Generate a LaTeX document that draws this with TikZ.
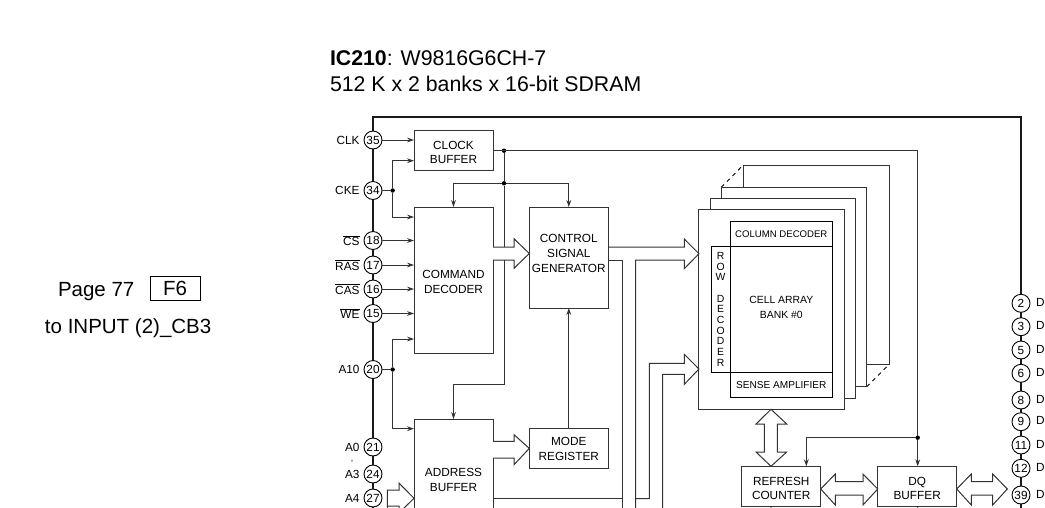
\documentclass[tikz,border=0pt]{standalone}
\usepackage{fontspec}
\setmainfont{Liberation Sans}
\usetikzlibrary{arrows.meta}

\begin{document}
\begin{tikzpicture}[
  x=1pt, y=-1pt,
  >={Stealth[length=7pt, width=4.8pt]},
  every node/.style={inner sep=0pt, outer sep=0pt},
  line/.style={line width=1pt, draw=black!80},
  bus/.style={line width=1.7pt, draw=black!90},
  hollow/.style={line width=1pt, draw=black!80, fill=white, line join=miter},
  blockbox/.style={rectangle, draw=black!80, line width=1pt, fill=white, minimum width=79pt, align=center, font=\fontsize{11.8}{14.7}\selectfont},
  pin/.style={circle, draw=black, line width=0.9pt, fill=white, minimum size=18pt, font=\fontsize{11.8}{11.8}\selectfont},
  pinname/.style={anchor=east, font=\fontsize{11.8}{11.8}\selectfont},
  dqname/.style={anchor=west, font=\fontsize{11.8}{11.8}\selectfont},
  bankbox/.style={rectangle, draw=black, line width=0.9pt, fill=white, align=center, font=\fontsize{9.6}{15}\selectfont},
  note/.style={anchor=base west, font=\fontsize{20.5}{20.5}\selectfont},
  titletext/.style={anchor=base west, font=\fontsize{21.3}{21.3}\selectfont},
  dot/.style={circle, fill=black, minimum size=4.4pt}
]
\useasboundingbox (0,0) rectangle (1045,507);
\clip (0,0) rectangle (1045,507);

% title and page note
\node[titletext] (title) at (330,65.5) {\textbf{IC210}: W9816G6CH-7};
\node[titletext] (subtitle) at (330,91) {512 K x 2 banks x 16-bit SDRAM};
\node[note] (page) at (58,296.5) {Page 77};
\node[draw=black, line width=0.8pt, minimum width=50pt, minimum height=24pt, font=\fontsize{20.5}{20.5}\selectfont] (sheet) at (175,288.7) {F6};
\node[note] (toinput) at (45,333.5) {to INPUT (2)\_CB3};

% power rail round the chip
\coordinate (railtl) at (373,117);
\coordinate (railtr) at (1021,117);
\coordinate (railbl) at (373,515);
\coordinate (railbr) at (1021,515);
\draw[bus] (railbl) -- (railtl) -- (railtr) -- (railbr);

% pins on the left
\node[pin] (p35) at (373,140) {35};
\node[pin] (p34) at (373,190.5) {34};
\node[pin] (p18) at (373,240.5) {18};
\node[pin] (p17) at (373,265) {17};
\node[pin] (p16) at (373,289) {16};
\node[pin] (p15) at (373,313.5) {15};
\node[pin] (p20) at (373,369.5) {20};
\node[pin] (p21) at (373,447) {21};
\node[pin] (p24) at (373,474) {24};
\node[pin] (p27) at (373,498) {27};
\node[pinname] (nclk) at (359.5,140) {CLK};
\node[pinname] (ncke) at (359.5,190.5) {CKE};
\node[pinname] (ncs) at (359.5,240.5) {$\overline{\mbox{CS}}$};
\node[pinname] (nras) at (359.5,265) {$\overline{\mbox{RAS}}$};
\node[pinname] (ncas) at (359.5,289) {$\overline{\mbox{CAS}}$};
\node[pinname] (nwe) at (359.5,313.5) {$\overline{\mbox{WE}}$};
\node[pinname] (na10) at (359.5,369.5) {A10};
\node[pinname] (na0) at (359.5,447) {A0};
\node[rotate=90, font=\fontsize{4.5}{4.5}\selectfont] (nto) at (352.5,461) {≈};
\node[pinname] (na3) at (359.5,474) {A3};
\node[pinname] (na4) at (359.5,498) {A4};

% pins on the right
\node[pin] (p2) at (1021,303.3) {2};
\node[pin] (p3) at (1021,326.7) {3};
\node[pin] (p5) at (1021,350) {5};
\node[pin] (p6) at (1021,373.3) {6};
\node[pin] (p8) at (1021,400) {8};
\node[pin] (p9) at (1021,421.7) {9};
\node[pin] (p11) at (1021,445) {11};
\node[pin] (p12) at (1021,468.3) {12};
\node[pin] (p39) at (1021,495) {39};
\node[dqname] (d2) at (1036,303.3) {DQ};
\node[dqname] (d3) at (1036,326.7) {DQ};
\node[dqname] (d5) at (1036,350) {DQ};
\node[dqname] (d6) at (1036,373.3) {DQ};
\node[dqname] (d8) at (1036,400) {DQ};
\node[dqname] (d9) at (1036,421.7) {DQ};
\node[dqname] (d11) at (1036,445) {DQ};
\node[dqname] (d12) at (1036,468.3) {DQ};
\node[dqname] (d39) at (1036,495) {DQ};

% function blocks
\node[blockbox, minimum height=39.3pt] (clkbuf) at (453.5,150.4) {\rule{0pt}{12.5pt}CLOCK\\BUFFER};
\node[blockbox, minimum height=146pt] (cmddec) at (453.5,280) {\rule{0pt}{12pt}COMMAND\\DECODER};
\node[blockbox, minimum height=101pt] (ctlgen) at (568.8,257.5) {CONTROL\\SIGNAL\\GENERATOR\rule[-8pt]{0pt}{0pt}};
\node[blockbox, minimum height=39.3pt] (modereg) at (568.8,448.4) {\rule{0pt}{9.5pt}MODE\\REGISTER};
\node[blockbox, minimum height=122pt] (addrbuf) at (453.5,480) {ADDRESS\\BUFFER};
\node[blockbox, minimum height=40pt] (refresh) at (781.2,486.3) {\rule{0pt}{12.5pt}REFRESH\\COUNTER};
\node[blockbox, minimum height=40pt] (dqbuf) at (917.2,486.3) {\rule{0pt}{12.5pt}DQ\\BUFFER};

% banks, back to front
\draw[dash pattern=on 4pt off 4pt, line width=0.9pt] (721.3,187.3) -- (743.3,165);
\draw[dash pattern=on 4pt off 4pt, line width=0.9pt] (866.7,386.7) -- (889.3,364.3);
\draw[line] (743.3,187.3) -- (743.3,165) -- (889.3,165) -- (889.3,364.3) -- (866.7,364.3);
\draw[line] (710,198.3) -- (721.3,198.3) -- (721.3,187.3) -- (866.7,187.3) -- (866.7,386.7) -- (855.7,386.7);
\draw[line] (699,209.7) -- (710,209.7) -- (710,198.3) -- (855.7,198.3) -- (855.7,398.3) -- (844.7,398.3);
\node[rectangle, draw=black!80, line width=1pt, fill=white, minimum width=145.7pt, minimum height=199.6pt] (bank) at (771.8,309.5) {};
\node[bankbox, minimum width=102.7pt, minimum height=25pt] (coldec) at (781.3,233.8) {COLUMN DECODER};
\node[bankbox, minimum width=102.7pt, minimum height=25pt, font=\fontsize{10.1}{15}\selectfont] (senseamp) at (781.3,384.8) {SENSE AMPLIFIER};
\node[bankbox, minimum width=102.7pt, minimum height=126pt, font=\fontsize{10.4}{15}\selectfont] (cell) at (781.3,309.3) {CELL ARRAY\\BANK \#0\rule[-4pt]{0pt}{0pt}};
\node[bankbox, minimum width=18.7pt, minimum height=126pt, anchor=east, font=\fontsize{10.4}{10.7}\selectfont] (rowdec) at (cell.west) {R\\O\\W\\[10.7pt]D\\E\\C\\O\\D\\E\\R};

% clock and control lines
\draw[->, line] (p35) -- (clkbuf.west |- p35);
\node[dot] (ckedot) at (392.7,190.5) {};
\draw[line] (p34) -- (ckedot);
\draw[->, line] (ckedot) |- (clkbuf.west |- 0,160.7);
\draw[->, line] (ckedot) |- (cmddec.west |- 0,217);
\draw[->, line] (p18) -- (cmddec.west |- p18);
\draw[->, line] (p17) -- (cmddec.west |- p17);
\draw[->, line] (p16) -- (cmddec.west |- p16);
\draw[->, line] (p15) -- (cmddec.west |- p15);
\node[dot] (a10dot) at (392.7,369.5) {};
\draw[line] (p20) -- (a10dot);
\draw[->, line] (a10dot) |- (cmddec.west |- 0,339);
\draw[->, line] (a10dot) |- (addrbuf.west |- 0,428.7);

\node[dot] (clkdot) at (504,150.7) {};
\node[dot] (ctldot) at (504,183.3) {};
\coordinate (clkturn) at (917.7,150.7);
\node[dot] (dqdot) at (917.7,437.7) {};
\draw[line] (clkbuf.east |- clkdot) -- (clkturn) -- (dqdot);
\draw[->, line] (dqdot) -- (dqbuf.north -| dqdot);
\draw[->, line] (dqdot) -| (806.3,466.3);
\draw[line] (clkdot) -- (ctldot);
\draw[->, line] (ctldot) -| (cmddec.north);
\draw[->, line] (ctldot) -| (ctlgen.north);
\draw[->, line] (ctldot) -- (504,384) -| (addrbuf.north);
\draw[->, line] (modereg.north) -- (ctlgen.south);

% block arrows
\draw[hollow] (cmddec.east |- 0,247) -- (514,247) -- (514,238.7) -- (ctlgen.west |- 0,253.5) -- (514,268.3) -- (514,260) -- (cmddec.east |- 0,260);
\draw[hollow] (addrbuf.east |- 0,441.3) -- (514,441.3) -- (514,434.7) -- (modereg.west) -- (514,464.7) -- (514,458) -- (addrbuf.east |- 0,458);
\draw[hollow] (387.3,515) -- (387.3,490) -- (399,490) -- (399,483) -- (addrbuf.west |- 0,498.3) -- (399,513) -- (399,506) -- (387.3,506);
\draw[line] (ctlgen.east |- 0,247) -- (684.3,247) -- (684.3,239) -- (bank.west |- 0,253.7) -- (684.3,268.7) -- (684.3,260) -- (635.5,260) -- (635.5,515);
\draw[line] (ctlgen.east |- 0,260) -- (622.7,260) -- (622.7,515);
\draw[line] (addrbuf.east |- 0,498.5) -- (622.7,498.5);
\draw[line] (635.5,498.5) -- (649.3,498.5) -- (649.3,363.3) -- (684.3,363.3) -- (684.3,354.3) -- (bank.west |- 0,369) -- (684.3,384.3) -- (684.3,374.3) -- (662.5,374.3) -- (662.5,515);
\draw[hollow] (bank.south -| 771,0) -- (786.7,424) -- (777.3,424) -- (777.3,452) -- (786.7,452) -- (refresh.north -| 771,0) -- (756,452) -- (764.3,452) -- (764.3,424) -- (756,424) -- cycle;
\draw[hollow] (refresh.east |- 0,489) -- (835.3,474) -- (835.3,481.7) -- (863,481.7) -- (863,474) -- (dqbuf.west |- 0,489) -- (863,505) -- (863,495) -- (835.3,495) -- (835.3,505) -- cycle;
\draw[hollow] (dqbuf.east |- 0,489) -- (971.3,474) -- (971.3,481.7) -- (992.7,481.7) -- (992.7,474) -- (1007.3,489) -- (992.7,505) -- (992.7,495) -- (971.3,495) -- (971.3,505) -- cycle;

% arrows coming up from below the crop
\coordinate (refbelow) at (771,520);
\coordinate (dqbelow) at (917.7,520);
\draw[<-, line] (refresh.south -| refbelow) -- (refbelow);
\draw[<-, line] (dqbuf.south -| dqbelow) -- (dqbelow);
\end{tikzpicture}
\end{document}
